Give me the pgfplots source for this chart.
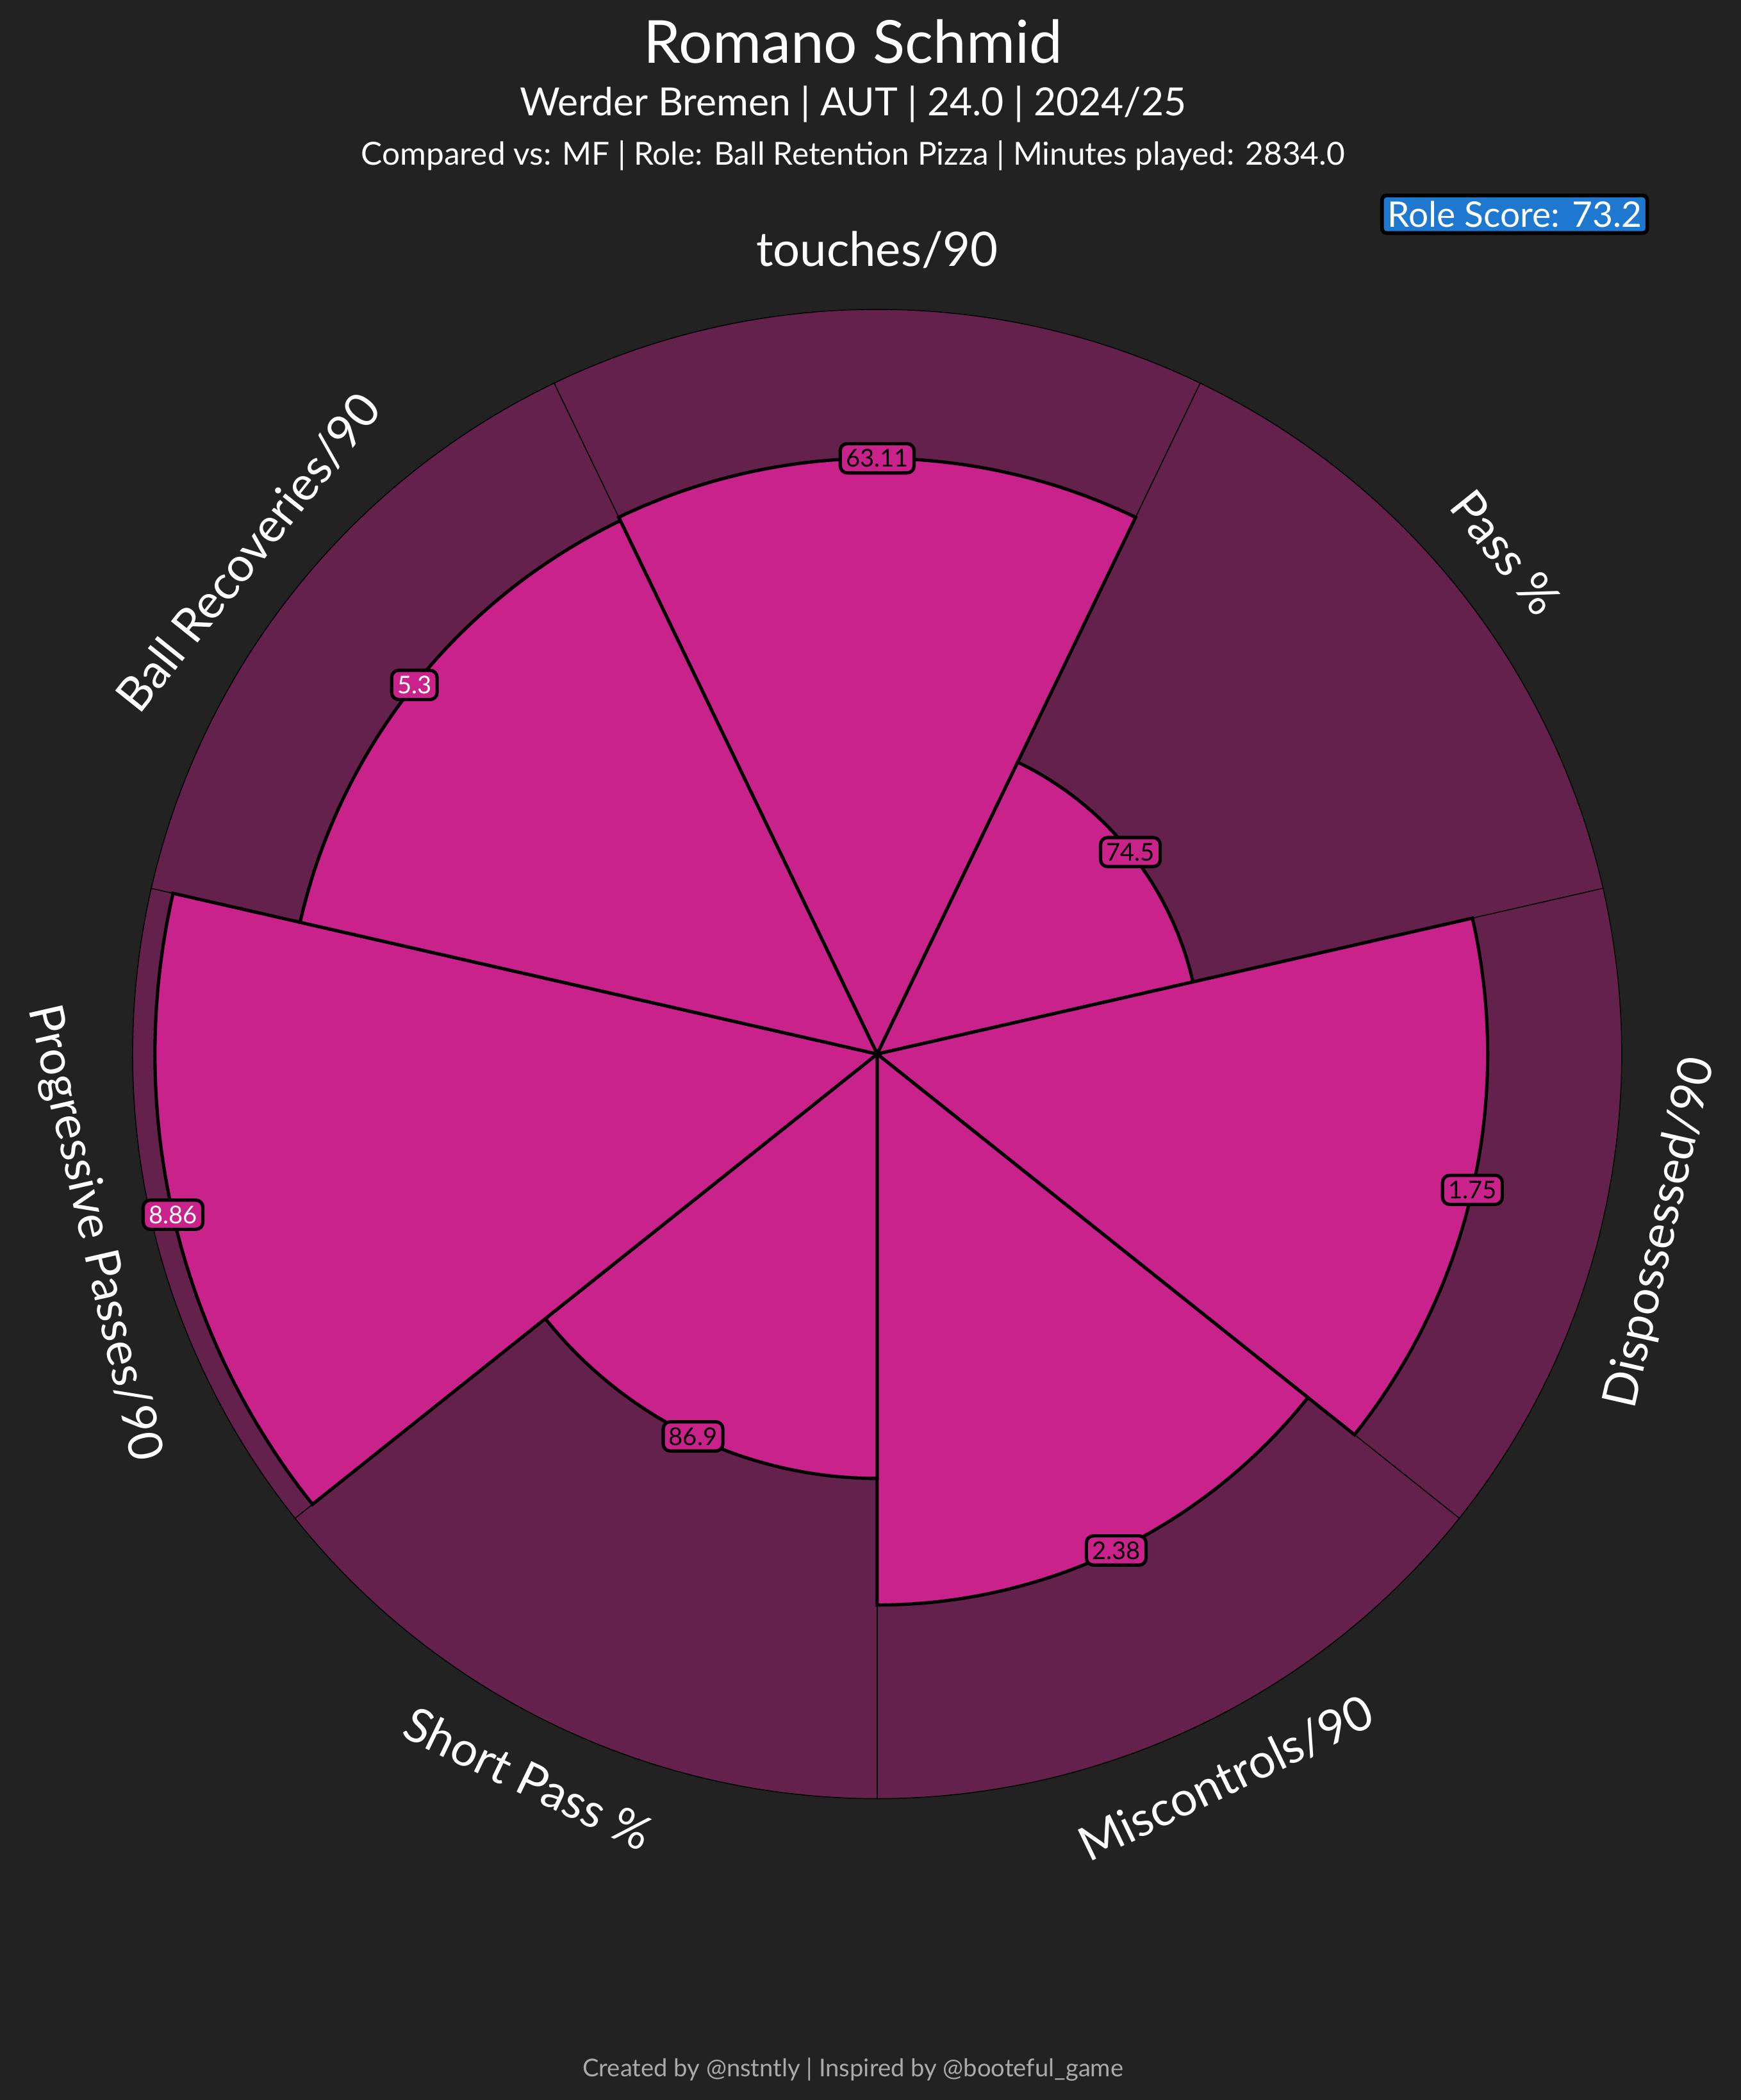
\documentclass[border=0pt]{standalone}
\usepackage{pgfplots}
\pgfplotsset{compat=1.18}
\usepgfplotslibrary{polar}
\usepackage{fontspec}
\setmainfont{Lato}
\definecolor{bg}{HTML}{222222}
\definecolor{pk}{HTML}{C9228A}
\definecolor{dp}{HTML}{64214C}
\definecolor{rb}{HTML}{1E78CF}
\definecolor{ft}{HTML}{AAAAAA}
\begin{document}
\begin{tikzpicture}[x=1cm,y=1cm]
\fill[bg] (0,0) rectangle (13,15.68);
\node[text=white, font=\fontsize{12.6}{14}\selectfont] at (6.37,15.37) {Romano Schmid};
\node[text=white, font=\fontsize{8.25}{9.5}\selectfont] at (6.37,14.90) {Werder Bremen | AUT | 24.0 | 2024/25};
\node[text=white, font=\fontsize{6.75}{8}\selectfont] at (6.37,14.52) {Compared vs: MF | Role: Ball Retention Pizza | Minutes played: 2834.0};
\node[text=white, fill=rb, draw=black, line width=0.8pt, rounded corners=1pt, inner sep=1.2pt, font=\fontsize{7.5}{9}\selectfont] at (11.31,14.08) {Role Score: 73.2};
\node[text=ft, font=\fontsize{5.2}{6}\selectfont] at (6.37,0.23) {Created by @nstntly | Inspired by @booteful\_game};
\begin{polaraxis}[at={(6.55cm,7.81cm)}, anchor=center, scale only axis,
  width=11.12cm, height=11.12cm, xmin=0, xmax=360, ymin=0, ymax=100,
  hide axis, clip=false]
% background wedges (100th percentile)
\addplot[draw=black, line width=0.2pt, fill=dp, domain=64.286:115.714, samples=60] {100} -- (axis cs:0,0) -- cycle;
\addplot[draw=black, line width=0.2pt, fill=dp, domain=12.857:64.286, samples=60] {100} -- (axis cs:0,0) -- cycle;
\addplot[draw=black, line width=0.2pt, fill=dp, domain=-38.571:12.857, samples=60] {100} -- (axis cs:0,0) -- cycle;
\addplot[draw=black, line width=0.2pt, fill=dp, domain=-90:-38.571, samples=60] {100} -- (axis cs:0,0) -- cycle;
\addplot[draw=black, line width=0.2pt, fill=dp, domain=-141.429:-90, samples=60] {100} -- (axis cs:0,0) -- cycle;
\addplot[draw=black, line width=0.2pt, fill=dp, domain=-192.857:-141.429, samples=60] {100} -- (axis cs:0,0) -- cycle;
\addplot[draw=black, line width=0.2pt, fill=dp, domain=115.714:167.143, samples=60] {100} -- (axis cs:0,0) -- cycle;
% value wedges (percentiles)
\addplot[draw=black, line width=0.7pt, fill=pk, domain=64.286:115.714, samples=60] {80} -- (axis cs:0,0) -- cycle;
\addplot[draw=black, line width=0.7pt, fill=pk, domain=12.857:64.286, samples=60] {43.5} -- (axis cs:0,0) -- cycle;
\addplot[draw=black, line width=0.7pt, fill=pk, domain=-38.571:12.857, samples=60] {82} -- (axis cs:0,0) -- cycle;
\addplot[draw=black, line width=0.7pt, fill=pk, domain=-90:-38.571, samples=60] {74} -- (axis cs:0,0) -- cycle;
\addplot[draw=black, line width=0.7pt, fill=pk, domain=-141.429:-90, samples=60] {57} -- (axis cs:0,0) -- cycle;
\addplot[draw=black, line width=0.7pt, fill=pk, domain=-192.857:-141.429, samples=60] {97} -- (axis cs:0,0) -- cycle;
\addplot[draw=black, line width=0.7pt, fill=pk, domain=115.714:167.143, samples=60] {79.5} -- (axis cs:0,0) -- cycle;
% value labels
\addplot[draw=none, nodes near coords, point meta=explicit symbolic,
  nodes near coords style={anchor=center, text=black, fill=pk, draw=black, line width=0.7pt, rounded corners=1.5pt, inner sep=1.2pt, font=\fontsize{5.2}{6}\selectfont}]
  coordinates {(90,80)[63.11] (38.571,43.5)[74.5] (-12.857,82)[1.75] (-64.286,74)[2.38] (-115.714,57)[86.9]};
\addplot[draw=none, nodes near coords, point meta=explicit symbolic,
  nodes near coords style={anchor=center, text=white, fill=pk, draw=black, line width=0.7pt, rounded corners=1.5pt, inner sep=1.2pt, font=\fontsize{5.2}{6}\selectfont}]
  coordinates {(-167.143,97)[8.86] (141.429,79.5)[5.3]};
% category labels
\node[text=white, font=\fontsize{10.1}{11}\selectfont, rotate=0] at (axis cs:90,108) {touches/90};
\node[text=white, font=\fontsize{10.1}{11}\selectfont, rotate=-51.43] at (axis cs:38.571,108) {Pass \%};
\node[text=white, font=\fontsize{10.1}{11}\selectfont, rotate=77.14] at (axis cs:-12.857,108) {Dispossessed/90};
\node[text=white, font=\fontsize{10.1}{11}\selectfont, rotate=25.71] at (axis cs:-64.286,108) {Miscontrols/90};
\node[text=white, font=\fontsize{10.1}{11}\selectfont, rotate=-25.71] at (axis cs:-115.714,108) {Short Pass \%};
\node[text=white, font=\fontsize{10.1}{11}\selectfont, rotate=-77.14] at (axis cs:-167.143,108) {Progressive Passes/90};
\node[text=white, font=\fontsize{10.1}{11}\selectfont, rotate=51.43] at (axis cs:141.429,108) {Ball Recoveries/90};
\end{polaraxis}
\end{tikzpicture}
\end{document}
